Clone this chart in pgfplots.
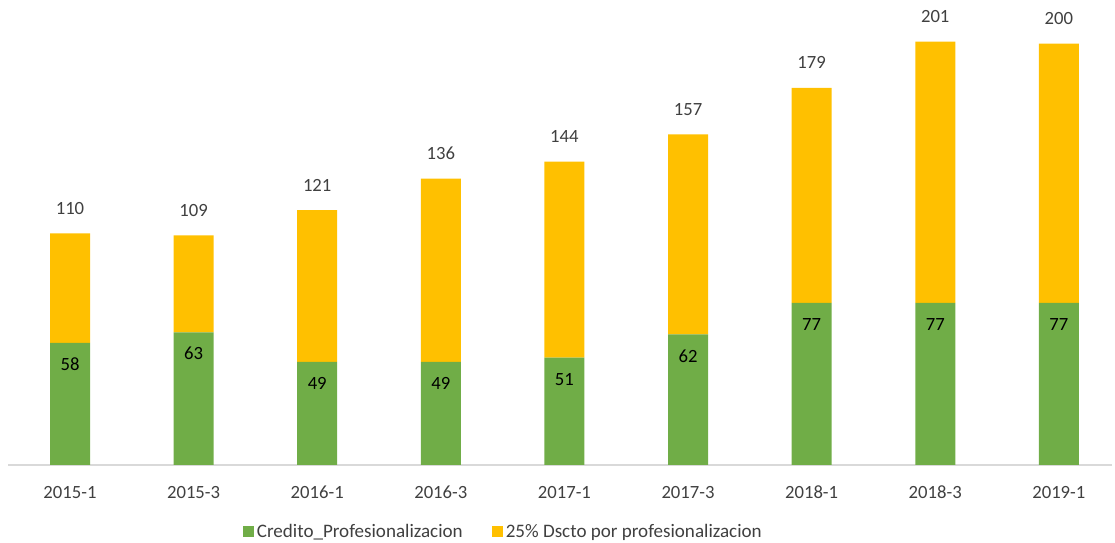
\documentclass[border=0pt]{standalone}
\usepackage{fontspec}
\setmainfont{Carlito}
\usepackage{pgfplots}
\pgfplotsset{compat=1.18}
\usepackage{pgfplotstable}
\definecolor{cgreen}{HTML}{70AD47}
\definecolor{cyellow}{HTML}{FFC000}
\definecolor{txt}{HTML}{404040}
\definecolor{axl}{HTML}{D9D9D9}
\pgfplotstableread{
x green yellow total
0 58 52 110
1 63 46 109
2 49 72 121
3 49 87 136
4 51 93 144
5 62 95 157
6 77 102 179
7 77 124 201
8 77 123 200
}\data
\pgfplotsset{base/.style={at={(6.15pt,58.5pt)}, anchor=south west,
  scale only axis, width=827.85pt, height=341.25pt,
  xmin=-0.5, xmax=8.43, ymin=0, ymax=216, clip=false,
  /pgf/number format/assume math mode=true}}
\begin{document}
\begin{tikzpicture}
\path[use as bounding box] (0pt,0pt) rectangle (836.25pt,407.25pt);
\begin{axis}[base,
  ybar stacked, bar width=30pt,
  axis x line*=bottom, hide y axis,
  x axis line style={axl, line width=1.1pt},
  xtick={0,...,8},
  xticklabels={2015-1,2015-3,2016-1,2016-3,2017-1,2017-3,2018-1,2018-3,2019-1},
  major tick length=0pt,
  xticklabel style={font=\fontsize{14}{16}\selectfont, text=txt, anchor=base, yshift=-25pt},
  ytick=\empty,
  legend style={at={(0.449,-0.147)}, anchor=center, draw=none, fill=none,
    legend columns=2, font=\fontsize{14.3}{16}\selectfont, text=txt,
    /tikz/every even column/.append style={column sep=20pt}},
  legend image code/.code={\fill[#1] (0pt,-3.5pt) rectangle (8.25pt,4.75pt);},
]
\addplot[fill=cgreen, draw=none] table[x=x, y=green]{\data};
\addlegendentry{Credito\_Profesionalizacion}
\addplot[fill=cyellow, draw=none] table[x=x, y=yellow]{\data};
\addlegendentry{25\% Dscto por profesionalizacion}
\end{axis}
\begin{axis}[base, hide axis]
\addplot[draw=none, mark=none, nodes near coords, point meta=explicit,
  every node near coord/.append style={anchor=base, yshift=-20.75pt, font=\fontsize{14}{16}\selectfont, text=black}]
  table[x=x, y=green, meta=green]{\data};
\addplot[draw=none, mark=none, nodes near coords, point meta=explicit,
  every node near coord/.append style={anchor=base, yshift=14.25pt, font=\fontsize{14}{16}\selectfont, text=txt}]
  table[x=x, y=total, meta=total]{\data};
\end{axis}
\end{tikzpicture}
\end{document}
